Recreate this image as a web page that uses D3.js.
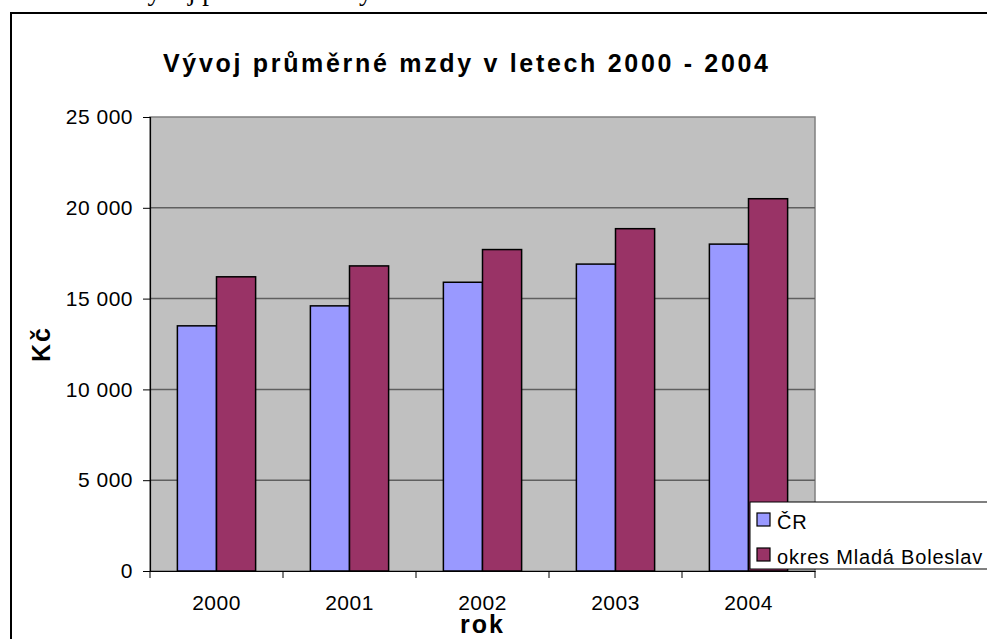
<!DOCTYPE html>
<html>
<head>
<meta charset="utf-8">
<script src="https://cdn.jsdelivr.net/npm/d3@7"></script>
<style>
  body { margin: 0; background: #fff; }
  text { font-family: Arial, "Liberation Sans", sans-serif; }
</style>
</head>
<body>
<div id="chart-container"></div>
<script>
// Chart data
var years = ["2000", "2001", "2002", "2003", "2004"];
var seriesNames = ["ČR", "okres Mladá Boleslav"];
var valuesCR = [13500, 14600, 15900, 16900, 18000];
var valuesMB = [16200, 16800, 17700, 18850, 20500];
var yTicks = [0, 5000, 10000, 15000, 20000, 25000];
var colors = ["#9999ff", "#993366"];

var W = 987, H = 639;
var plot = { left: 150, right: 815, top: 117, bottom: 571 };

var svg = d3.select("#chart-container")
  .append("svg")
  .attr("width", W)
  .attr("height", H);

// Cut-off caption of the surrounding document
svg.append("text")
  .attr("x", 128)
  .attr("y", 0)
  .style("font-family", "'Liberation Serif', 'Times New Roman', serif")
  .style("font-size", "27px")
  .text("Vývoj průměrné mzdy");

// Chart area frame
svg.append("rect")
  .attr("x", 11).attr("y", 13)
  .attr("width", 1100).attr("height", 800)
  .attr("fill", "#fff")
  .attr("stroke", "#000")
  .attr("stroke-width", 2);

// Title
svg.append("text")
  .attr("x", 163)
  .attr("y", 72)
  .attr("textLength", 605)
  .attr("lengthAdjust", "spacing")
  .style("font-size", "25px")
  .style("font-weight", "bold")
  .text("Vývoj průměrné mzdy v letech 2000 - 2004");

// Scales
var x0 = d3.scaleBand()
  .domain(years)
  .range([plot.left, plot.right])
  .padding(0);

var bw = x0.bandwidth();
var barW = bw / 3.4;
var x1 = d3.scaleBand()
  .domain(seriesNames)
  .range([(bw - 2 * barW) / 2, (bw + 2 * barW) / 2])
  .padding(0);

var y = d3.scaleLinear()
  .domain([0, 25000])
  .range([plot.bottom, plot.top]);

var fmt = function(d) { return d3.format(",")(d).replace(/,/g, " "); };

// Plot area
svg.append("rect")
  .attr("x", plot.left).attr("y", plot.top)
  .attr("width", plot.right - plot.left)
  .attr("height", plot.bottom - plot.top)
  .attr("fill", "#c0c0c0")
  .attr("stroke", "#808080")
  .attr("stroke-width", 1.5);

// Gridlines
svg.append("g")
  .selectAll("line")
  .data(yTicks.filter(function(d) { return d > 0 && d < 25000; }))
  .join("line")
  .attr("x1", plot.left).attr("x2", plot.right)
  .attr("y1", function(d) { return y(d); })
  .attr("y2", function(d) { return y(d); })
  .attr("stroke", "#5f5f5f")
  .attr("stroke-width", 1.5);

// Bars
var rows = years.map(function(yr, i) {
  return { year: yr, vals: [valuesCR[i], valuesMB[i]] };
});

svg.append("g")
  .selectAll("g")
  .data(rows)
  .join("g")
  .attr("transform", function(d) { return "translate(" + x0(d.year) + ",0)"; })
  .selectAll("rect")
  .data(function(d) { return d.vals.map(function(v, j) { return { name: seriesNames[j], v: v, j: j }; }); })
  .join("rect")
  .attr("x", function(d) { return x1(d.name); })
  .attr("y", function(d) { return y(d.v); })
  .attr("width", x1.bandwidth())
  .attr("height", function(d) { return plot.bottom - y(d.v); })
  .attr("fill", function(d) { return colors[d.j]; })
  .attr("stroke", "#000")
  .attr("stroke-width", 1.5);

// Y axis
var yAxis = svg.append("g")
  .attr("transform", "translate(" + plot.left + ",0)")
  .call(d3.axisLeft(y).tickValues(yTicks).tickFormat(fmt).tickSize(7).tickPadding(10));
yAxis.select(".domain").attr("stroke", "#000").attr("stroke-width", 1.2);
yAxis.selectAll(".tick line").attr("stroke", "#000");
yAxis.selectAll(".tick text")
  .style("font-size", "21px")
  .style("letter-spacing", "0.5px")
  .attr("fill", "#000");

// X axis
var xAxis = svg.append("g")
  .attr("transform", "translate(0," + plot.bottom + ")")
  .call(d3.axisBottom(x0).tickSize(0).tickPadding(24));
xAxis.select(".domain").attr("stroke", "#000").attr("stroke-width", 1.2);
xAxis.selectAll(".tick text")
  .style("font-size", "21px")
  .style("letter-spacing", "0.5px")
  .attr("fill", "#000");

// Category boundary ticks
svg.append("g")
  .selectAll("line")
  .data(years.concat(["end"]))
  .join("line")
  .attr("x1", function(d, i) { return plot.left + i * bw; })
  .attr("x2", function(d, i) { return plot.left + i * bw; })
  .attr("y1", plot.bottom)
  .attr("y2", plot.bottom + 7)
  .attr("stroke", "#000");

// Axis titles
svg.append("text")
  .attr("x", (plot.left + plot.right) / 2)
  .attr("y", 633)
  .attr("text-anchor", "middle")
  .style("font-size", "25px")
  .style("font-weight", "bold")
  .style("letter-spacing", "2px")
  .text("rok");

svg.append("text")
  .attr("transform", "translate(50," + (plot.top + plot.bottom) / 2 + ") rotate(-90)")
  .attr("text-anchor", "middle")
  .style("font-size", "25px")
  .style("font-weight", "bold")
  .style("letter-spacing", "2px")
  .text("Kč");

// Legend
var legend = svg.append("g").attr("transform", "translate(750,502)");
legend.append("rect")
  .attr("width", 300).attr("height", 67)
  .attr("fill", "#fff")
  .attr("stroke", "#000")
  .attr("stroke-width", 1);

legend.selectAll("g.item")
  .data(seriesNames)
  .join("g")
  .attr("class", "item")
  .attr("transform", function(d, i) { return "translate(7," + (11 + i * 35) + ")"; })
  .each(function(d, i) {
    var g = d3.select(this);
    g.append("rect")
      .attr("width", 13).attr("height", 13)
      .attr("fill", colors[i])
      .attr("stroke", "#000")
      .attr("stroke-width", 1.2);
    g.append("text")
      .attr("x", 20)
      .attr("y", 16)
      .style("font-size", "20px")
      .style("letter-spacing", "0.8px")
      .text(d);
  });
</script>
</body>
</html>
